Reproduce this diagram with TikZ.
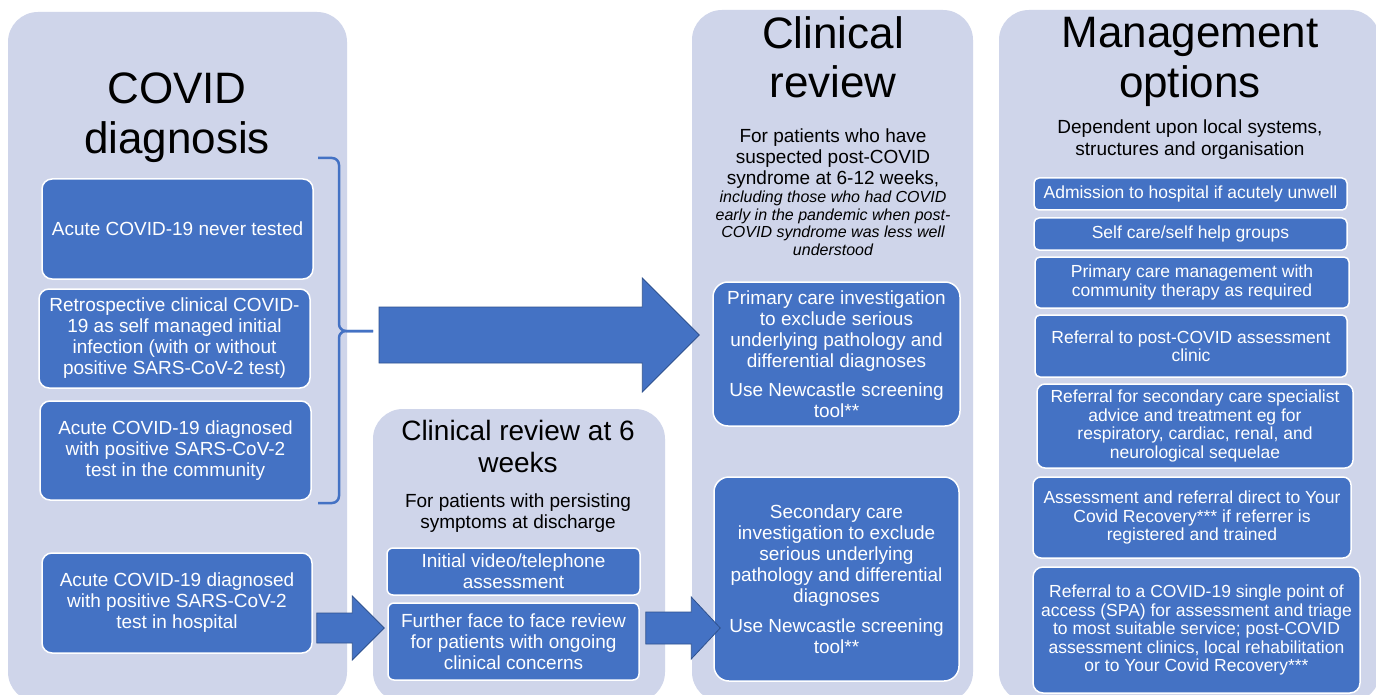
\documentclass[tikz,border=0pt]{standalone}
\usepackage{fontspec}
\setmainfont{Liberation Sans}
\usetikzlibrary{calc}
\definecolor{panelblue}{HTML}{CFD5EA}
\definecolor{boxblue}{HTML}{4472C4}
\definecolor{arrowedge}{HTML}{2F528F}
\newcommand\blockarrow[5]{%
  \filldraw[blockarr] let \p1=(#1),\p2=(#2) in
    (\x1,\y1+#3) -- (\x2-#5,\y1+#3) -- (\x2-#5,\y1+#4) -- (\x2,\y1)
    -- (\x2-#5,\y1-#4) -- (\x2-#5,\y1-#3) -- (\x1,\y1-#3) -- cycle;}

\begin{document}
\begin{tikzpicture}[x=1pt,y=-1pt,
    every node/.style={inner sep=0pt,align=center},
    dims/.style 2 args={minimum width=#1pt,minimum height=#2pt},
    stage/.style={fill=panelblue,rounded corners=30pt},
    heading/.style={font=\fontsize{44}{50}\selectfont},
    subhead/.style={font=\fontsize{19}{21}\selectfont},
    remark/.style={font=\fontsize{16}{17.5}\selectfont\itshape},
    entry/.style={fill=boxblue,draw=white,line width=1.5pt,rounded corners=10pt,text=white,font=\fontsize{19}{21}\selectfont},
    choice/.style={entry,rounded corners=5pt,font=\fontsize{17.5}{18.5}\selectfont},
    blockarr/.style={fill=boxblue,draw=arrowedge,line width=0.8pt},
    bracket/.style={draw=boxblue,line width=2.5pt,rounded corners=7pt}]
  \useasboundingbox (0,0) rectangle (1376,695);
  \clip (0,0) rectangle (1376,695);
  \fill[white] (0,0) rectangle (1376,695);
  \fill[stage] (8,12) rectangle (347,702);
  \fill[stage] (373,409) rectangle (665,702);
  \fill[stage] (692,10) rectangle (973,702);
  \fill[stage] (999,10) rectangle (1380,702);
  \draw
    (177,118) node[heading] (diag) {COVID\\diagnosis}
    (833,57) node[heading,font=\fontsize{44}{49}\selectfont] (review) {Clinical\\review}
    (1190,62) node[heading] (manage) {Management\\options}
    (518,446) node[font=\fontsize{28}{32}\selectfont] (sixweeks) {Clinical review at 6\\weeks};
  \draw
    (518,513) node[subhead] (persist) {For patients with persisting\\symptoms at discharge}
    (833,159) node[subhead] (suspect) {For patients who have\\suspected post-COVID\\syndrome at 6-12 weeks,}
    (833,223.5) node[remark] (earlier) {including those who had COVID\\early in the pandemic when post-\\COVID  syndrome was less well\\understood}
    (1190,140) node[subhead,font=\fontsize{19}{22}\selectfont] (depend) {Dependent upon local systems,\\structures and organisation};
  \draw
    (177.5,229) node[entry,dims={271}{100}] (never) {Acute COVID-19 never tested}
    (174.5,338.5) node[entry,dims={271}{99}] (retro) {Retrospective clinical COVID-\\19 as self managed initial\\infection (with or without\\positive SARS-CoV-2 test)}
    (175.5,450.5) node[entry,dims={271}{99}] (community) {Acute COVID-19 diagnosed\\with positive SARS-CoV-2\\test in the community}
    (177,603) node[entry,dims={270}{100}] (hospital) {Acute COVID-19 diagnosed\\with positive SARS-CoV-2\\test in hospital};
  \draw
    (513.5,571.5) node[entry,rounded corners=6pt,dims={253}{47}] (initial) {Initial video/telephone\\assessment}
    (513.5,641.5) node[entry,rounded corners=6pt,dims={251}{77}] (further) {Further face to face review\\for patients with ongoing\\clinical concerns};
  \draw
    (836.5,354) node[entry,rounded corners=15pt,dims={247}{144}] (primary) {Primary care investigation\\to exclude serious\\underlying pathology and\\differential diagnoses\\[8pt]Use Newcastle screening\\tool**}
    (836.5,579) node[entry,rounded corners=15pt,dims={245}{204}] (secondary) {Secondary care\\investigation to exclude\\serious underlying\\pathology and differential\\diagnoses\\[9pt]Use Newcastle screening\\tool**};
  \draw
    (1190.5,194) node[choice,dims={313}{32}] (admit) {Admission to hospital if acutely unwell}
    (1190.5,234) node[choice,dims={313}{32}] (selfcare) {Self care/self help groups}
    (1192,282.5) node[choice,dims={314}{51}] (primcare) {Primary care management with\\community therapy as required}
    (1191,346) node[choice,dims={312}{62}] (clinic) {Referral to post-COVID assessment\\clinic}
    (1195,426) node[choice,rounded corners=8pt,dims={316}{84}] (specialist) {Referral for secondary care specialist\\advice and treatment eg for\\respiratory, cardiac, renal, and\\neurological sequelae}
    (1192,517.5) node[choice,rounded corners=8pt,dims={318}{81}] (ycr) {Assessment and referral direct to Your\\Covid Recovery*** if referrer is\\registered and trained}
    (1196.5,630) node[choice,rounded corners=10pt,dims={327}{126}] (spa) {Referral to a COVID-19 single point of\\access (SPA) for assessment and triage\\to most suitable service; post-COVID\\assessment clinics, local rehabilitation\\or to Your Covid Recovery***};
  \coordinate (brtop) at (318,158);
  \coordinate (brbot) at (318,503);
  \coordinate (brtip) at (373,331);
  \draw[bracket] (brtop) -| (339,331) -- (brtip);
  \draw[bracket] (brbot) -| (339,331) -- (brtip);
  \coordinate (bigfrom) at ($(brtip)+(6,4)$);
  \coordinate (bigto) at ($(primary.west)+(-13,-19)$);
  \blockarrow{bigfrom}{bigto}{28pt}{57pt}{57pt}
  \blockarrow{$(hospital.east)+(4,25)$}{$(further.west)+(-3,-13.5)$}{15pt}{32pt}{32pt}
  \blockarrow{$(further.east)+(6,-13.5)$}{$(secondary.west)+(7,49)$}{16pt}{31pt}{29pt}
\end{tikzpicture}
\end{document}
